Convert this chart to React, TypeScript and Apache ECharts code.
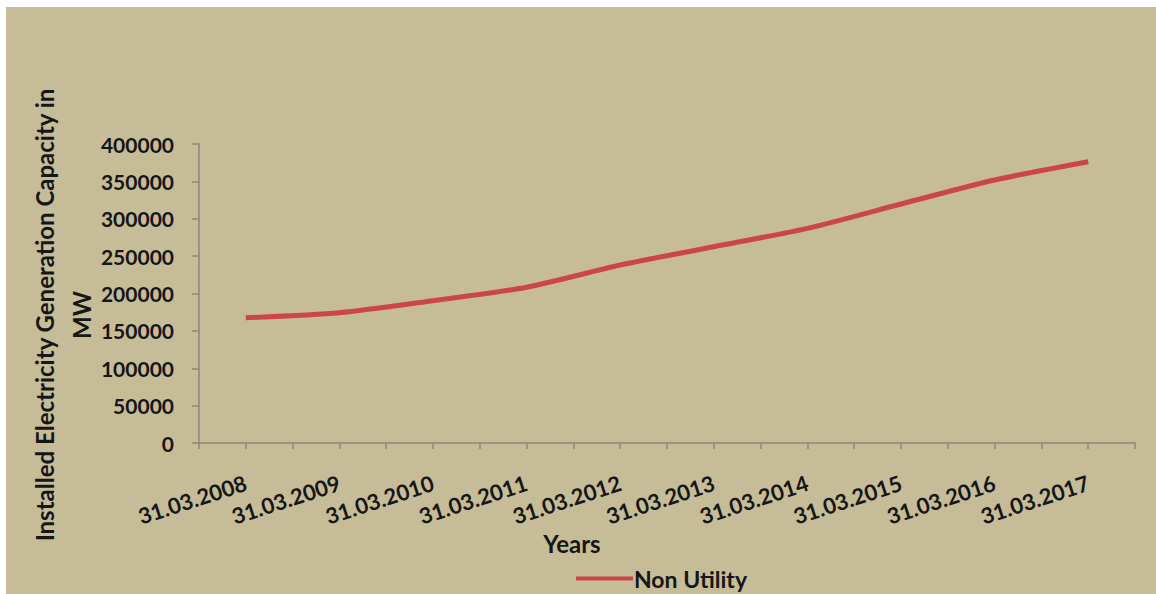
import React, { useEffect, useRef } from "react";
import * as echarts from "echarts";

const years = [
  "31.03.2008", "31.03.2009", "31.03.2010", "31.03.2011", "31.03.2012",
  "31.03.2013", "31.03.2014", "31.03.2015", "31.03.2016", "31.03.2017",
];
const nonUtility = [167600, 174300, 190400, 208300, 238100, 262600, 287200, 319700, 351800, 376300];
const yTicks = { min: 0, max: 400000, interval: 50000 };
const seriesName = "Non Utility";
const yTitle = "Installed Electricity Generation Capacity in\nMW";
const xTitle = "Years";

// Category slots: a blank slot between/around each year (Excel-style tick marks)
const slots: string[] = [""];
const slotValues: (number | null)[] = [null];
years.forEach((y, i) => {
  slots.push(y, "");
  slotValues.push(nonUtility[i], null);
});

const FONT = "Lato, 'Open Sans', sans-serif";
const TEXT = "#161616";
const BG = "#c6bd98";

export default function App() {
  const ref = useRef<HTMLDivElement>(null);
  useEffect(() => {
    if (!ref.current) return;
    const chart = echarts.init(ref.current, undefined, { renderer: "svg" });
    chart.setOption({
      animation: false,
      backgroundColor: "#ffffff",
      textStyle: { fontFamily: FONT },
      grid: { left: 199, right: 21, top: 144, bottom: 151, containLabel: false },
      graphic: [
        { type: "rect", z: -10, shape: { x: 6, y: 7, width: 1150, height: 587 }, style: { fill: BG } },
        {
          type: "text",
          x: 63,
          y: 315,
          rotation: Math.PI / 2,
          style: {
            text: yTitle,
            fontFamily: FONT,
            fontWeight: "bold",
            fontSize: 24,
            lineHeight: 37,
            fill: TEXT,
            align: "center",
            verticalAlign: "middle",
          },
        },
        {
          type: "text",
          x: 572,
          y: 543,
          style: {
            text: xTitle,
            fontFamily: FONT,
            fontWeight: "bold",
            fontSize: 24,
            fill: TEXT,
            align: "center",
            verticalAlign: "middle",
          },
        },
      ],
      legend: {
        show: true,
        left: 571,
        top: 562,
        icon: "rect",
        itemWidth: 57,
        itemHeight: 4,
        itemGap: 2,
        textStyle: { fontFamily: FONT, fontWeight: "bold", fontSize: 23, color: TEXT, padding: [0, 0, 0, -4] },
        data: [seriesName],
      },
      xAxis: {
        type: "category",
        data: slots,
        boundaryGap: false,
        axisLine: { show: true, lineStyle: { color: "#8c887a", width: 1.5 } },
        axisTick: { show: true, interval: 0, length: 6, lineStyle: { color: "#8c887a", width: 1.5 } },
        axisLabel: {
          interval: 0,
          rotate: 18,
          margin: 39,
          fontFamily: FONT,
          fontWeight: "bold",
          fontSize: 22,
          color: TEXT,
        },
        splitLine: { show: false },
      },
      yAxis: {
        type: "value",
        min: yTicks.min,
        max: yTicks.max,
        interval: yTicks.interval,
        axisLine: { show: true, lineStyle: { color: "#8c887a", width: 1.5 } },
        axisTick: { show: true, length: 7, lineStyle: { color: "#8c887a", width: 1.5 } },
        axisLabel: {
          margin: 25,
          fontFamily: FONT,
          fontWeight: "bold",
          fontSize: 21,
          color: TEXT,
          formatter: (v: number) => String(v),
        },
        splitLine: { show: false },
      },
      series: [
        {
          name: seriesName,
          type: "line",
          data: slotValues,
          connectNulls: true,
          smooth: 0.25,
          showSymbol: false,
          symbol: "none",
          lineStyle: { color: "#cc4549", width: 5 },
          itemStyle: { color: "#cc4549" },
        },
      ],
    });
    return () => chart.dispose();
  }, []);
  return (
    <div style={{ position: "fixed", left: 0, top: 0, width: 1156, height: 594, background: "#fff" }}>
      <div ref={ref} style={{ width: 1156, height: 594 }} />
    </div>
  );
}
